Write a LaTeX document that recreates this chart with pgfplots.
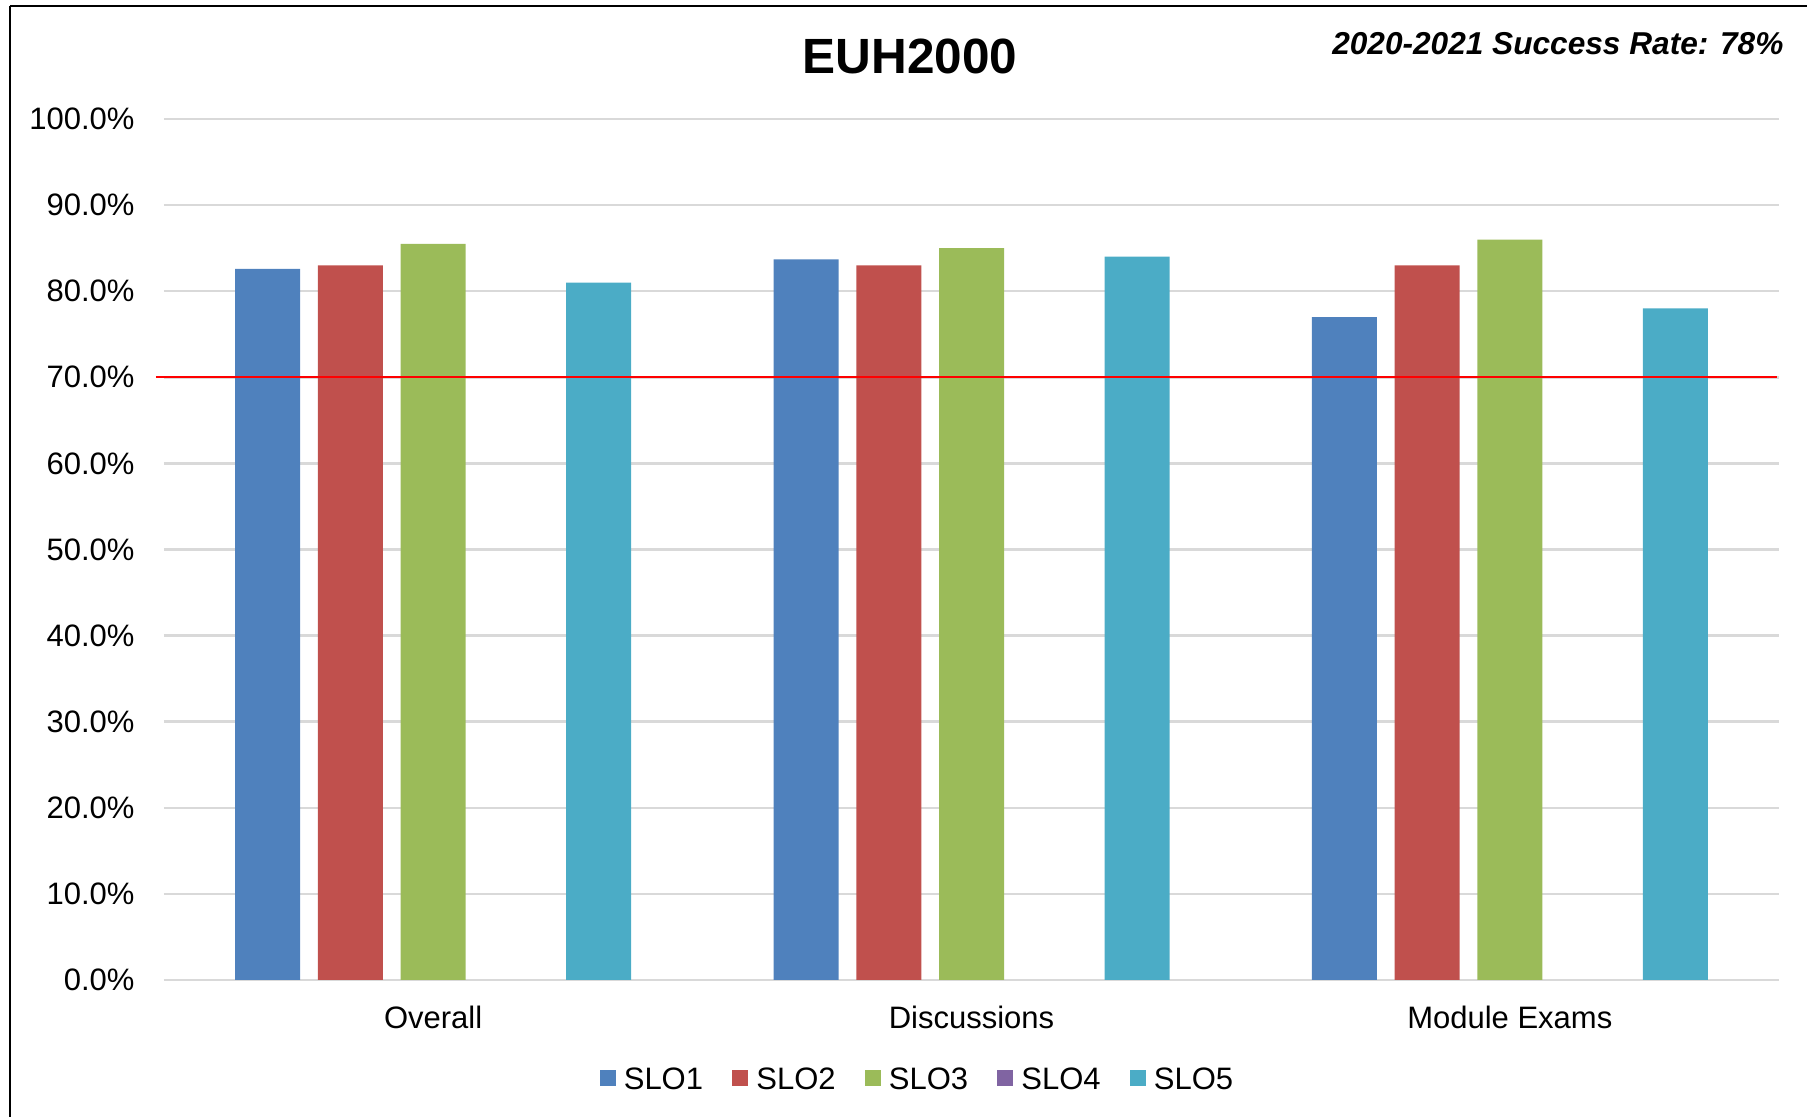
\documentclass[border=0pt]{standalone}
\usepackage{fontspec}
\setmainfont{Liberation Sans}
\usepackage{pgfplots}
\pgfplotsset{compat=1.18}
\definecolor{slo1}{HTML}{4F81BD}
\definecolor{slo2}{HTML}{C0504D}
\definecolor{slo3}{HTML}{9BBB59}
\definecolor{slo4}{HTML}{8064A2}
\definecolor{slo5}{HTML}{4BACC6}
\definecolor{gridc}{HTML}{D9D9D9}
\pgfplotsset{sqleg/.style={legend image code/.code={\fill[##1] (0pt,-2.2pt) rectangle (6.4pt,4.2pt);}}}
\begin{document}
\begin{tikzpicture}
\path[use as bounding box] (-65.6pt,-54.8pt) rectangle (657.2pt,392pt);
\draw[line width=1pt] (-61.6pt,389.6pt) -- (657.2pt,389.6pt);
\draw[line width=0.9pt] (-61.6pt,389.6pt) -- (-61.6pt,-54.8pt);
\begin{axis}[
  at={(0pt,0pt)}, anchor=south west,
  scale only axis, width=646pt, height=344.4pt,
  xmin=-0.5, xmax=2.5, ymin=0, ymax=100,
  xtick={0,1,2}, xticklabels={Overall,Discussions,Module Exams},
  ytick={0,10,...,100},
  yticklabels={0.0\%,10.0\%,20.0\%,30.0\%,40.0\%,50.0\%,60.0\%,70.0\%,80.0\%,90.0\%,100.0\%},
  ymajorgrids, grid style={gridc, line width=1pt},
  axis line style={draw=none},
  major tick length=0pt,
  tick label style={font=\fontsize{12.4}{14}\selectfont},
  yticklabel style={anchor=east, inner sep=0pt, xshift=-11.6pt},
  xticklabel style={anchor=base, inner sep=0pt, yshift=-19.2pt},
  clip=false,
  legend columns=5,
  legend style={draw=none, fill=none, at={(axis description cs:0.4675,-0.1165)}, anchor=center,
    font=\fontsize{12.4}{14}\selectfont, inner sep=0pt,
    /tikz/every odd column/.append style={column sep=1.2pt},
    /tikz/every even column/.append style={column sep=9.7pt}},
]
\addplot[ybar, bar width=26pt, bar shift=-66.2pt, fill=slo1, draw=none, sqleg] coordinates {(0,82.6) (1,83.7) (2,77)};
\addlegendentry{SLO1}
\addplot[ybar, bar width=26pt, bar shift=-33.1pt, fill=slo2, draw=none, sqleg] coordinates {(0,83) (1,83) (2,83)};
\addlegendentry{SLO2}
\addplot[ybar, bar width=26pt, bar shift=0pt, fill=slo3, draw=none, sqleg] coordinates {(0,85.5) (1,85) (2,86)};
\addlegendentry{SLO3}
\addlegendimage{fill=slo4, draw=none, sqleg}
\addlegendentry{SLO4}
\addplot[ybar, bar width=26pt, bar shift=66.2pt, fill=slo5, draw=none, sqleg] coordinates {(0,81) (1,84) (2,78)};
\addlegendentry{SLO5}
\addplot[red, line width=0.9pt, forget plot] coordinates {(-0.515,70) (2.497,70)};
\end{axis}
\node[anchor=base, font=\fontsize{19.8}{24}\selectfont\bfseries] at (298.4pt,362.4pt) {EUH2000};
\node[anchor=base east, inner sep=0pt, font=\fontsize{12.65}{15}\selectfont\bfseries\itshape] at (648pt,370pt) {2020-2021 Success Rate: 78\%};
\end{tikzpicture}
\end{document}
